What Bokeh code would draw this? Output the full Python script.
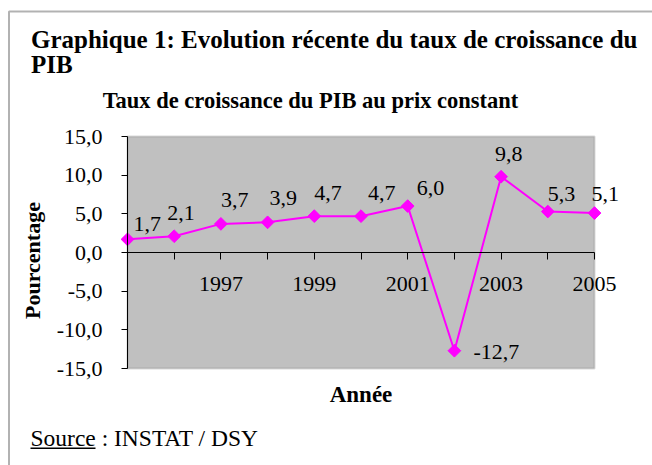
import math
from bokeh.plotting import figure
from bokeh.models import (LinearAxis, FixedTicker, Range1d, BoxAnnotation,
                          Label, LabelSet, ColumnDataSource)
from bokeh.core.properties import value
from bokeh.embed import file_html
from bokeh.resources import INLINE

# ---------------- data ----------------
years = [1995, 1996, 1997, 1998, 1999, 2000, 2001, 2002, 2003, 2004, 2005]
growth = [1.7, 2.1, 3.7, 3.9, 4.7, 4.7, 6.0, -12.7, 9.8, 5.3, 5.1]
y_ticks = [-15, -10, -5, 0, 5, 10, 15]
x_label_years = [1997, 1999, 2001, 2003, 2005]
heading_line1 = "Graphique 1: Evolution récente du taux de croissance du"
heading_line2 = "PIB"
chart_title = "Taux de croissance du PIB au prix constant"
x_title = "Année"
y_title = "Pourcentage"
source_text = "Source : INSTAT / DSY"

# ------------- label placement (pixels, style only) -------------
label_dx = [6, -7, 0, 2, 0, 7, 9, 19, -6, 0, -3]
label_dy = [8, 16, 17, 17, 16, 16, 11, -8, 16, 11, 12]

FONT = "Liberation Serif"
MAGENTA = "#FF00FF"
W, H = 652, 465
# pixel box of the grey plotting area inside the canvas
GX0, GX1, GY0, GY1 = 127.0, 594.0, 136.0, 368.0
TXT_SHIFT = 8  # compensation for single-label baseline placement

x_lo, x_hi = years[0], years[-1]
y_lo, y_hi = y_ticks[0], y_ticks[-1]
ppx = (GX1 - GX0) / (x_hi - x_lo)
ppy = (GY1 - GY0) / (y_hi - y_lo)
x_start = x_lo - GX0 / ppx
x_end = x_start + W / ppx
y_end = y_hi + GY0 / ppy
y_start = y_end - H / ppy


def sx(cx):
    return cx


def sy(cy):
    return H - cy


def ty(cy):
    return H - (cy - TXT_SHIFT)


def fmt(v):
    return f"{v:.1f}".replace(".", ",")


p = figure(width=W, height=H,
           x_range=Range1d(x_start, x_end), y_range=Range1d(y_start, y_end),
           x_axis_type=None, y_axis_type=None,
           toolbar_location=None, output_backend="svg",
           min_border=0, min_border_left=0, min_border_right=0,
           min_border_top=0, min_border_bottom=0,
           outline_line_color=None,
           background_fill_color="white", border_fill_color="white")

# grey plot area
p.add_layout(BoxAnnotation(left=x_lo, right=x_hi, bottom=y_lo, top=y_hi,
                           fill_color="#C0C0C0", fill_alpha=1.0,
                           line_color="#808080", line_width=2,
                           level="underlay"))

# axes
yaxis = LinearAxis(fixed_location=x_lo, bounds=(y_lo, y_hi),
                   ticker=FixedTicker(ticks=y_ticks, minor_ticks=[]),
                   major_label_overrides={t: fmt(t) for t in y_ticks},
                   axis_line_color="black", axis_line_width=1,
                   major_tick_line_color="black",
                   major_tick_out=6, major_tick_in=0,
                   minor_tick_out=0, minor_tick_in=0,
                   major_label_standoff=19,
                   major_label_text_font=FONT,
                   major_label_text_font_size="22px",
                   major_label_text_color="black")
p.add_layout(yaxis, "left")

xaxis = LinearAxis(fixed_location=0, bounds=(x_lo, x_hi),
                   ticker=FixedTicker(ticks=years, minor_ticks=[]),
                   major_label_overrides={yr: (str(yr) if yr in x_label_years else "")
                                          for yr in years},
                   axis_line_color="black", axis_line_width=1,
                   major_tick_line_color="black",
                   major_tick_out=7, major_tick_in=0,
                   minor_tick_out=0, minor_tick_in=0,
                   major_label_standoff=17,
                   major_label_text_font=FONT,
                   major_label_text_font_size="22px",
                   major_label_text_color="black")
p.add_layout(xaxis, "below")

# series
src = ColumnDataSource(dict(x=years, y=growth,
                            text=[fmt(v) for v in growth],
                            dx=label_dx, dy=label_dy))
p.line("x", "y", source=src, line_color=MAGENTA, line_width=2)
p.scatter("x", "y", source=src, marker="square", angle=math.pi / 4,
          size=9, fill_color=MAGENTA, line_color=MAGENTA)
p.add_layout(LabelSet(x="x", y="y", text="text", source=src,
                      x_offset="dx", y_offset="dy",
                      text_font=value(FONT), text_font_size=value("22px"),
                      text_color="black", text_align="left",
                      text_baseline="alphabetic"))

# outer frame of the figure box
p.add_layout(BoxAnnotation(left=sx(8.5), right=sx(W + 60), top=sy(11), bottom=sy(H + 60),
                           left_units="screen", right_units="screen",
                           top_units="screen", bottom_units="screen",
                           fill_alpha=0, line_color="black", line_width=2))

# texts
p.add_layout(Label(x=sx(30.5), y=ty(46.5), x_units="screen", y_units="screen",
                   text=heading_line1, text_font=FONT, text_font_size="25px",
                   text_font_style="bold", text_color="black",
                   text_align="left", text_baseline="alphabetic"))
p.add_layout(Label(x=sx(30.5), y=ty(71.5), x_units="screen", y_units="screen",
                   text=heading_line2, text_font=FONT, text_font_size="25px",
                   text_font_style="bold", text_color="black",
                   text_align="left", text_baseline="alphabetic"))
p.add_layout(Label(x=sx(310), y=ty(108), x_units="screen", y_units="screen",
                   text=chart_title, text_font=FONT, text_font_size="22.5px",
                   text_font_style="bold", text_color="black",
                   text_align="center", text_baseline="alphabetic"))
p.add_layout(Label(x=sx(360.5), y=ty(402), x_units="screen", y_units="screen",
                   text=x_title, text_font=FONT, text_font_size="23px",
                   text_font_style="bold", text_color="black",
                   text_align="center", text_baseline="alphabetic"))
p.add_layout(Label(x=sx(32), y=sy(260), x_units="screen", y_units="screen",
                   text=y_title, text_font=FONT, text_font_size="22px",
                   text_font_style="bold", text_color="black", angle=math.pi / 2,
                   text_align="center", text_baseline="middle"))
p.add_layout(Label(x=sx(30), y=ty(445), x_units="screen", y_units="screen",
                   text=source_text, text_font=FONT, text_font_size="23.5px",
                   text_color="black", text_align="left",
                   text_baseline="alphabetic"))
# underline of "Source"
p.add_layout(BoxAnnotation(left=sx(30), right=sx(95), top=sy(447), bottom=sy(448.5),
                           left_units="screen", right_units="screen",
                           top_units="screen", bottom_units="screen",
                           fill_color="black", fill_alpha=1, line_alpha=0))

open("out.html", "w").write(file_html(p, INLINE))
